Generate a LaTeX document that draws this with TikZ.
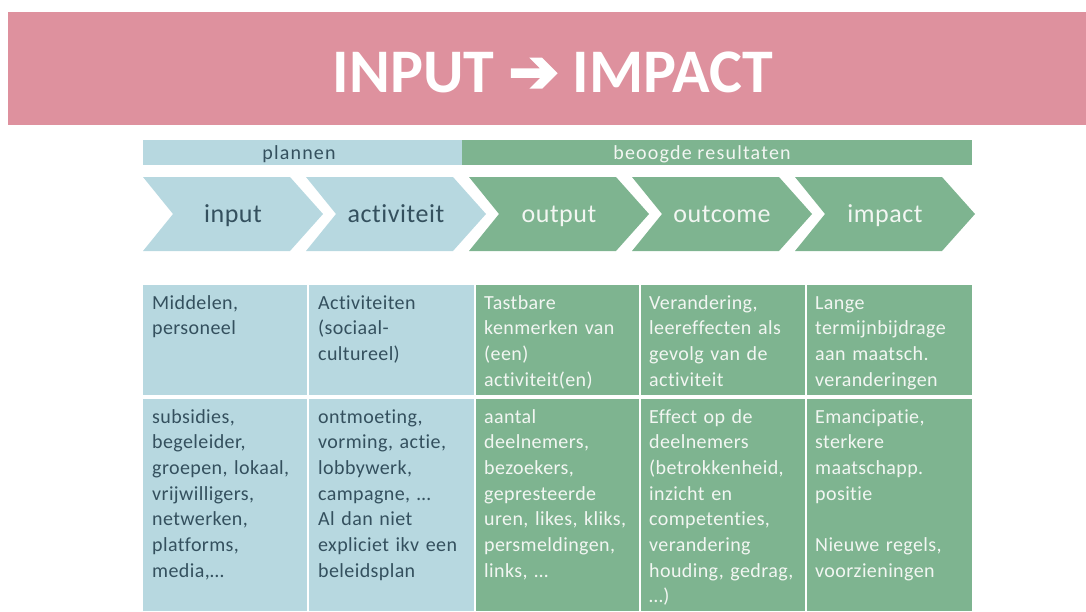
\documentclass[tikz,border=0pt]{standalone}
\usepackage{fontspec}
\setmainfont{Carlito}[Ligatures=NoCommon]
\newfontfamily\arrowfont{DejaVu Sans}[FakeBold=4]
\usepackage{tikz}
\definecolor{ioPink}{HTML}{DE919E}
\definecolor{ioBlue}{HTML}{B7D8E0}
\definecolor{ioGreen}{HTML}{7EB490}
\definecolor{ioDark}{HTML}{34505E}
\definecolor{ioWhite}{HTML}{F2F6F2}
\tikzset{
  celltext/.style={anchor=base west, inner sep=0pt, text width=158pt, align=left,
    font=\fontsize{20}{25.7}\selectfont\addfontfeature{LetterSpace=2}},
  chevlabel/.style={anchor=base, inner sep=0pt,
    font=\fontsize{26}{30}\selectfont\addfontfeature{LetterSpace=2}},
  barlabel/.style={anchor=base, inner sep=0pt,
    font=\fontsize{20}{23}\selectfont\addfontfeature{LetterSpace=6}}
}

\begin{document}
\begin{tikzpicture}[x=1pt, y=-1pt]
  \useasboundingbox (0,0) rectangle (1086,611);
  % Title band
  \fill[ioPink] (8,12) rectangle (1086,125);
  \node[anchor=base, text=white, font=\fontsize{62}{70}\selectfont\bfseries]
    (title) at (553,92) {INPUT {\arrowfont\mdseries\fontsize{60}{70}\selectfont ➔} IMPACT};
  % Phase bars
  \fill[ioBlue] (143,140) rectangle (462,165);
  \fill[ioGreen] (462,140) rectangle (972,165);
  \node[barlabel, text=ioDark] (plannen) at (299,159) {plannen};
  \node[barlabel, text=ioWhite] (beoogd) at (702,159) {beoogde resultaten};
  % Chevrons
  \foreach \x/\col/\txt/\name/\lbl in {143/ioBlue/ioDark/input/input,
      306/ioBlue/ioDark/activ/activiteit, 469/ioGreen/ioWhite/output/output,
      632/ioGreen/ioWhite/outcome/outcome, 795/ioGreen/ioWhite/impact/impact}{
    \fill[\col] (\x,177) -- (\x+147,177) -- (\x+180,214) -- (\x+147,251)
      -- (\x,251) -- (\x+30,214) -- cycle;
    \node[chevlabel, text=\txt] (\name) at (\x+90,222) {\lbl};
  }
  % Table cells
  \foreach \l/\r/\col in {143/307/ioBlue, 309/474/ioBlue, 476/639/ioGreen,
      641/805/ioGreen, 807/972/ioGreen}{
    \fill[\col] (\l,285) rectangle (\r,395);
    \fill[\col] (\l,399) rectangle (\r,611);
  }
  % Row 1: descriptions
  \node[celltext, text=ioDark] (descinput) at (152,309) {Middelen,\\personeel};
  \node[celltext, text=ioDark] (descactiv) at (318,309) {Activiteiten\\(sociaal-\\cultureel)};
  \node[celltext, text=ioWhite] (descoutput) at (484,309)
    {Tastbare\\kenmerken van\\(een)\\activiteit(en)};
  \node[celltext, text=ioWhite] (descoutcome) at (649,309)
    {Verandering,\\leereffecten als\\gevolg van de\\activiteit};
  \node[celltext, text=ioWhite] (descimpact) at (815,309)
    {Lange\\termijnbijdrage\\aan maatsch.\\veranderingen};
  % Row 2: examples
  \node[celltext, text=ioDark] (exinput) at (152,423)
    {subsidies,\\begeleider,\\groepen, lokaal,\\vrijwilligers,\\netwerken,\\platforms,\\media,\ldots};
  \node[celltext, text=ioDark] (exactiv) at (318,423)
    {ontmoeting,\\vorming, actie,\\lobbywerk,\\campagne, \ldots\\Al dan niet\\expliciet ikv een\\beleidsplan};
  \node[celltext, text=ioWhite] (exoutput) at (484,423)
    {aantal\\deelnemers,\\bezoekers,\\gepresteerde\\uren, likes, kliks,\\persmeldingen,\\links, \ldots};
  \node[celltext, text=ioWhite] (exoutcome) at (649,423)
    {Effect op de\\deelnemers\\(betrokkenheid,\\inzicht en\\competenties,\\verandering\\houding, gedrag,\\\ldots)};
  \node[celltext, text=ioWhite] (eximpact) at (815,423)
    {Emancipatie,\\sterkere\\maatschapp.\\positie\\[25.7pt]Nieuwe regels,\\voorzieningen};
\end{tikzpicture}
\end{document}
